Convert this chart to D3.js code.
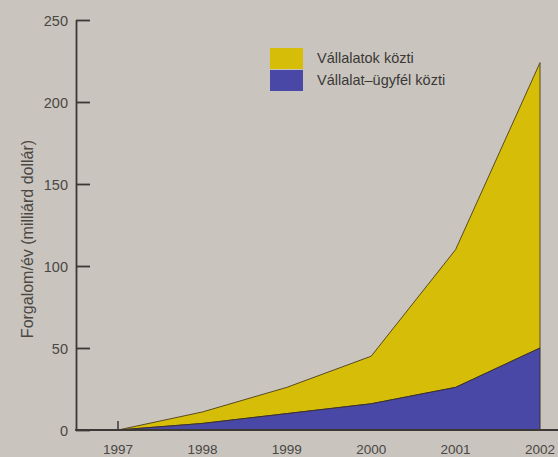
<html>
<head>
<meta charset="utf-8">
<script src="https://cdn.jsdelivr.net/npm/d3@7/dist/d3.min.js"></script>
<style type="text/css">
body{ margin: 0; background: #c9c5be; }
text{ font-family: "Liberation Sans", Arial, sans-serif; fill: #4a4744; }
.axis path, .axis line{ stroke: #3b3836; stroke-width: 1.8; }
</style>
</head>
<body>
<script type="text/javascript">
var width = 558,
    height = 457;

var years = [1997, 1998, 1999, 2000, 2001, 2002];
var b2c = [0, 4, 10, 16, 26, 50];        // Vállalat–ügyfél közti
var b2b = [0, 7, 16, 29, 84, 174];       // Vállalatok közti
var yTicks = [0, 50, 100, 150, 200, 250];
var seriesNames = ['Vállalatok közti', 'Vállalat–ügyfél közti'];
var seriesColors = ['#d5bd08', '#4a48a6'];

var margin = {left: 76, top: 20, bottom: 27};

var x = d3.scaleLinear()
    .domain([1997, 2002])
    .range([118, 540]);

var y = d3.scaleLinear()
    .domain([0, 250])
    .range([height - margin.bottom, margin.top]);

var svg = d3.select('body')
    .append('svg')
        .attr('width', width)
        .attr('height', height);

var rows = years.map(function(d, i){ return {year: d, b2c: b2c[i], b2b: b2b[i]}; });
var stack = d3.stack().keys(['b2c', 'b2b'])(rows);

var area = d3.area()
    .x(function(d){ return x(d.data.year); })
    .y0(function(d){ return y(d[0]); })
    .y1(function(d){ return y(d[1]); });

// top layer first so the outline of the lower one sits on top
svg.append('path')
    .attr('d', area(stack[1]))
    .attr('fill', seriesColors[0])
    .attr('stroke', '#5a4a22')
    .attr('stroke-width', 1);

svg.append('path')
    .attr('d', area(stack[0]))
    .attr('fill', seriesColors[1])
    .attr('stroke', '#3a3030')
    .attr('stroke-width', 1);

// y axis
var yAxis = svg.append('g')
    .attr('class', 'axis')
    .attr('transform', 'translate(' + margin.left + ',0)')
    .call(d3.axisRight(y).tickValues(yTicks).tickSize(14).tickSizeOuter(0).tickFormat(''));
yAxis.selectAll('.tick').append('text')
    .attr('x', -8)
    .attr('dy', '0.38em')
    .attr('text-anchor', 'end')
    .style('font-size', '14.5px')
    .text(function(d){ return d; });

// x axis baseline
svg.append('line')
    .attr('x1', margin.left - 0.9)
    .attr('x2', width)
    .attr('y1', y(0))
    .attr('y2', y(0))
    .attr('stroke', '#3b3836')
    .attr('stroke-width', 1.8);

svg.append('line')  // small tick at 1997
    .attr('x1', x(1997))
    .attr('x2', x(1997))
    .attr('y1', y(0))
    .attr('y2', y(0) - 9)
    .attr('stroke', '#3b3836')
    .attr('stroke-width', 1.5);

svg.selectAll('.year')
    .data(years)
    .enter()
    .append('text')
        .attr('class', 'year')
        .attr('x', function(d){ return x(d); })
        .attr('y', 454)
        .attr('text-anchor', 'middle')
        .style('font-size', '13.5px')
        .text(function(d){ return d; });

svg.append('text')
    .attr('transform', 'translate(33,239) rotate(-90)')
    .attr('text-anchor', 'middle')
    .style('font-size', '16px')
    .text('Forgalom/év (milliárd dollár)');

// legend
var legend = svg.selectAll('.legend')
    .data(seriesNames)
    .enter()
    .append('g')
        .attr('class', 'legend')
        .attr('transform', function(d, i){ return 'translate(270,' + (48 + i * 22) + ')'; });

legend.append('rect')
    .attr('width', 33)
    .attr('height', 21)
    .attr('fill', function(d, i){ return seriesColors[i]; });

legend.append('text')
    .attr('x', 47)
    .attr('y', 15)
    .style('font-size', '14.5px')
    .style('fill', '#3a3836')
    .text(function(d){ return d; });
</script>
</body>
</html>
